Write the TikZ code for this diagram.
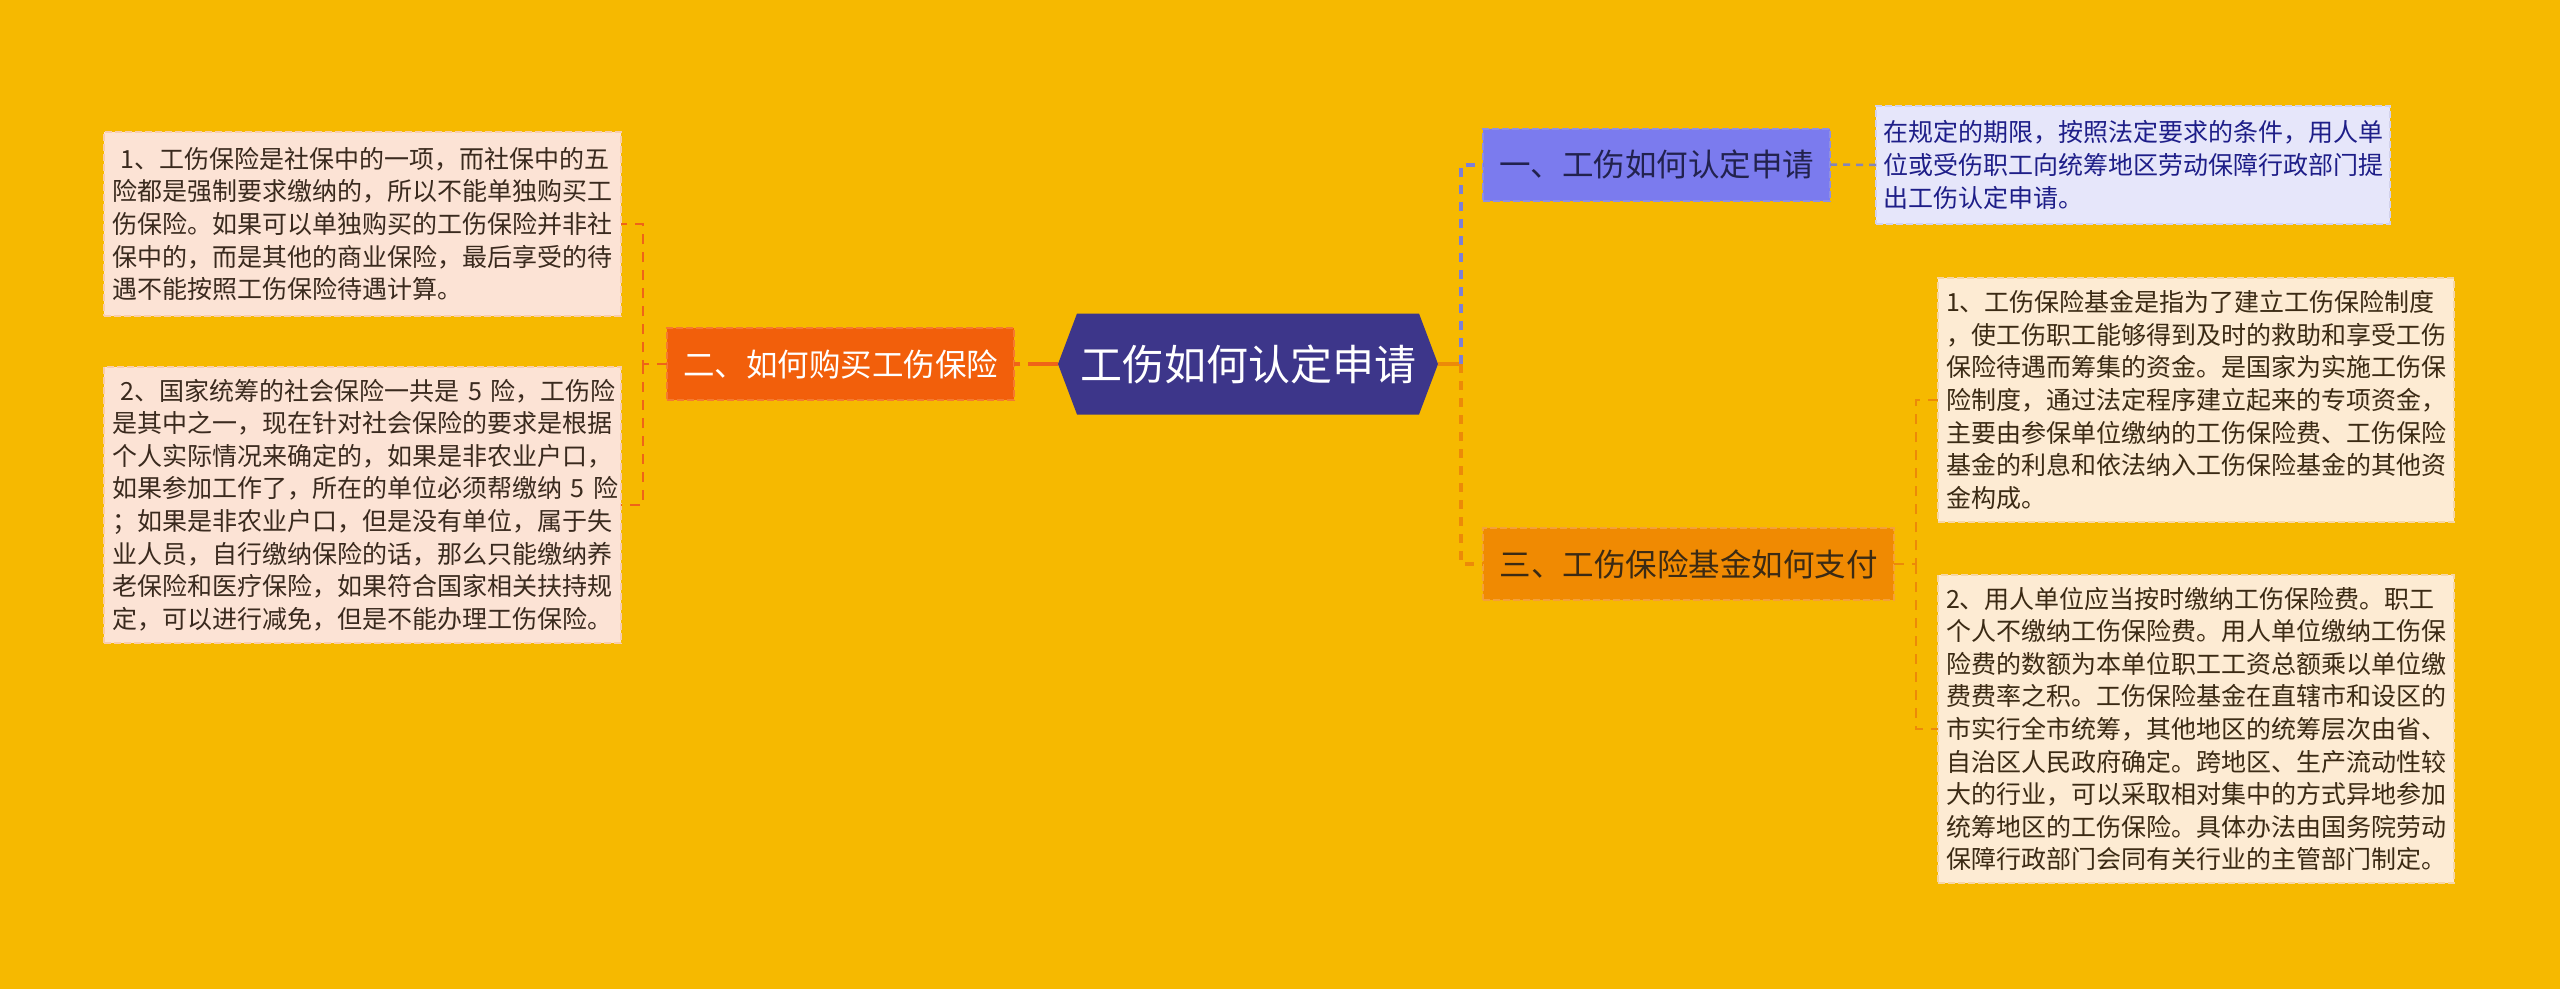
\documentclass[tikz,border=0pt]{standalone}
\usepackage{fontspec}
\setmainfont{Noto Sans CJK SC}
\definecolor{bg}{HTML}{F6B900}
\definecolor{hexfill}{HTML}{3D368A}
\definecolor{lnodefill}{HTML}{F25F0B}
\definecolor{lnodedraw}{HTML}{F57A30}
\definecolor{lleaffill}{HTML}{FCE3D5}
\definecolor{lleafdraw}{HTML}{F8CDAE}
\definecolor{lleaftext}{HTML}{3A2A1E}
\definecolor{aonefill}{HTML}{7B7BEE}
\definecolor{aonedraw}{HTML}{9090E0}
\definecolor{aonetext}{HTML}{22224E}
\definecolor{aleaffill}{HTML}{E6E6FA}
\definecolor{aleafdraw}{HTML}{D2D2EE}
\definecolor{aleaftext}{HTML}{1E1E88}
\definecolor{athreefill}{HTML}{F08A02}
\definecolor{athreedraw}{HTML}{F4A03A}
\definecolor{athreetext}{HTML}{3B2A14}
\definecolor{cleaffill}{HTML}{FDEBD3}
\definecolor{cleafdraw}{HTML}{F6D6A6}
\definecolor{cleaftext}{HTML}{3B2A14}
\definecolor{lline}{HTML}{EF6418}
\definecolor{bline}{HTML}{7C7FD6}
\definecolor{bthin}{HTML}{8585B8}
\definecolor{oline}{HTML}{EC8A08}
\tikzset{
  base/.style={inner sep=0pt, outer sep=0pt, anchor=center},
  bordered/.style={line width=2pt, dash pattern=on 7pt off 3pt},
  leafbox/.style={base, bordered, align=left, text width=500pt,
    font=\fontsize{25}{32.6}\selectfont},
  topicbox/.style={base, bordered, font=\fontsize{31.5}{36}\selectfont},
  thickconn/.style={line width=4pt, dash pattern=on 9pt off 8pt},
  thinconn/.style={line width=2.2pt, dash pattern=on 10pt off 8pt},
}
\begin{document}
\begin{tikzpicture}[x=1pt,y=-1pt]
\useasboundingbox (0,0) rectangle (2560,989);
\fill[bg] (0,0) rectangle (2560,989);

% central hexagon
\fill[hexfill] (1058,364) -- (1077,313.5) -- (1419,313.5) -- (1438,364)
  -- (1419,414.5) -- (1077,414.5) -- cycle;
\node[base, minimum width=380pt, minimum height=101pt, text=white,
  font=\fontsize{42}{48}\selectfont] (c) at (1248,364) {工伤如何认定申请};

% left topic
\node[topicbox, fill=lnodefill, draw=lnodedraw, text=white,
  minimum width=347pt, minimum height=72pt] (L) at (840.5,364) {二、如何购买工伤保险};

\node[leafbox, fill=lleaffill, draw=lleafdraw, text=lleaftext,
  inner xsep=8.5pt, minimum height=184pt] (L1) at (362.5,224)
  {\ 1、工伤保险是社保中的一项，而社保中的五\\
   险都是强制要求缴纳的，所以不能单独购买工\\
   伤保险。如果可以单独购买的工伤保险并非社\\
   保中的，而是其他的商业保险，最后享受的待\\
   遇不能按照工伤保险待遇计算。};

\node[leafbox, fill=lleaffill, draw=lleafdraw, text=lleaftext,
  inner xsep=8.5pt, minimum height=276pt] (L2) at (362.5,505)
  {\ 2、国家统筹的社会保险一共是~5~险，工伤险\\
   是其中之一，现在针对社会保险的要求是根据\\
   个人实际情况来确定的，如果是非农业户口，\\
   如果参加工作了，所在的单位必须帮缴纳~5~险\\
   ；如果是非农业户口，但是没有单位，属于失\\
   业人员，自行缴纳保险的话，那么只能缴纳养\\
   老保险和医疗保险，如果符合国家相关扶持规\\
   定，可以进行减免，但是不能办理工伤保险。};

% right topics
\node[topicbox, fill=aonefill, draw=aonedraw, text=aonetext,
  minimum width=347pt, minimum height=72pt] (R1) at (1656.5,164.5) {一、工伤如何认定申请};

\node[leafbox, fill=aleaffill, draw=aleafdraw, text=aleaftext,
  inner xsep=7pt, minimum height=118pt] (R1L) at (2133,165)
  {在规定的期限，按照法定要求的条件，用人单\\
   位或受伤职工向统筹地区劳动保障行政部门提\\
   出工伤认定申请。};

\node[topicbox, fill=athreefill, draw=athreedraw, text=athreetext,
  minimum width=411pt, minimum height=72pt] (R3) at (1688.5,564) {三、工伤保险基金如何支付};

\node[leafbox, fill=cleaffill, draw=cleafdraw, text=cleaftext,
  inner xsep=8pt, minimum height=244pt] (R3a) at (2196,400)
  {1、工伤保险基金是指为了建立工伤保险制度\\
   ，使工伤职工能够得到及时的救助和享受工伤\\
   保险待遇而筹集的资金。是国家为实施工伤保\\
   险制度，通过法定程序建立起来的专项资金，\\
   主要由参保单位缴纳的工伤保险费、工伤保险\\
   基金的利息和依法纳入工伤保险基金的其他资\\
   金构成。};

\node[leafbox, fill=cleaffill, draw=cleafdraw, text=cleaftext,
  inner xsep=8pt, minimum height=308pt] (R3b) at (2196,729)
  {2、用人单位应当按时缴纳工伤保险费。职工\\
   个人不缴纳工伤保险费。用人单位缴纳工伤保\\
   险费的数额为本单位职工工资总额乘以单位缴\\
   费费率之积。工伤保险基金在直辖市和设区的\\
   市实行全市统筹，其他地区的统筹层次由省、\\
   自治区人民政府确定。跨地区、生产流动性较\\
   大的行业，可以采取相对集中的方式异地参加\\
   统筹地区的工伤保险。具体办法由国务院劳动\\
   保障行政部门会同有关行业的主管部门制定。};

% connectors, left
\draw[lline, line width=4pt, dash pattern=on 30pt off 8pt] (c.west) -- (L.east);
\draw[lline, thinconn] (L.west) -- ++(-24,0) coordinate (lhub) |- (L1.east);
\draw[lline, thinconn] (lhub) |- (L2.east);

% connectors, right
\draw[oline, line width=4pt] (c.east) -- ++(23,0) coordinate (rhub);
\draw[bline, thickconn] (rhub) |- (R1.west);
\draw[oline, thickconn] (rhub) |- (R3.west);
\draw[bthin, line width=2.5pt, dash pattern=on 7pt off 6pt] (R1.east) -- (R1L.west);
\draw[oline, thinconn] (R3.east) -- ++(22,0) coordinate (r3hub) |- (R3a.west);
\draw[oline, thinconn] (r3hub) |- (R3b.west);
\end{tikzpicture}
\end{document}
